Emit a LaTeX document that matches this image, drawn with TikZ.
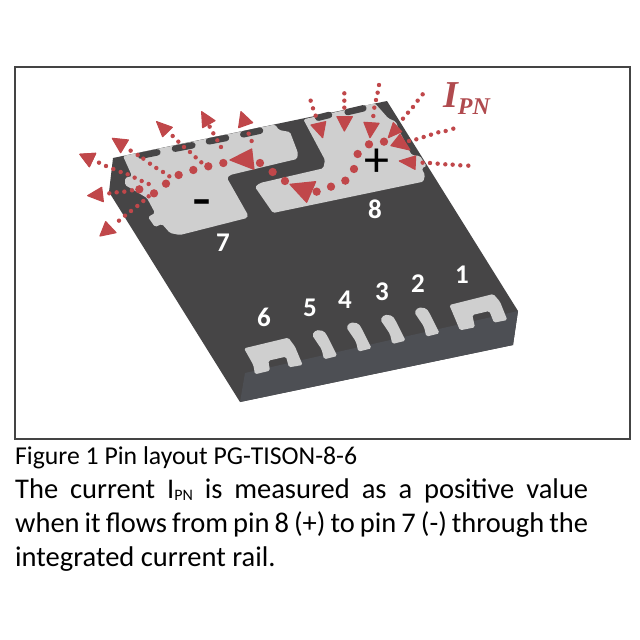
\documentclass[tikz,border=0pt]{standalone}
\usepackage{fontspec}
\setmainfont{Carlito}
\newfontfamily\serifbi[BoldItalicFont={Liberation Serif Bold Italic}]{Liberation Serif}
\definecolor{bodytop}{HTML}{464546}
\definecolor{bodyside}{HTML}{4D4F54}
\definecolor{padgray}{HTML}{CFCFCF}
\definecolor{cred}{HTML}{C0474A}
\definecolor{txtred}{HTML}{B04A4E}
\definecolor{framec}{HTML}{444444}
\tikzset{
  pad/.style={fill=padgray,rounded corners=1.6pt},
  pill/.style={draw=bodytop,line width=6.5pt,line cap=round},
  pinlabel/.style={text=white,font=\fontsize{27}{27}\selectfont\bfseries,inner sep=0pt},
  zone/.style={shift={(#1)},x=0.3333pt,y=-0.3333pt},
  tri/.style={fill=cred,draw=cred,line width=1.2pt,line join=round},
}
% small dots: list of coordinates in the current zoomed scope
\newcommand{\smalldots}[1]{\foreach \p in {#1}{\fill[cred] \p circle[radius=6.6];}}
\newcommand{\bigdots}[1]{\foreach \p in {#1}{\fill[cred] \p circle[radius=12.5];}}
\begin{document}
\begin{tikzpicture}[x=1pt,y=-1pt]
\useasboundingbox (0,0) rectangle (640,640);
\fill[white] (0,0) rectangle (640,640);
\draw[framec,line width=1.5pt] (15,67) rectangle (630,439);
% package
\fill[bodytop] (113,158) -- (387,101) -- (518,311) -- (513,345) -- (240,402) -- (220,370) -- (109,192) -- cycle;
\fill[bodyside] (245,373) -- (518,311) -- (513,345) -- (240,402) -- cycle;
% pad 7
\fill[pad] (123,156) -- (275,124.5) -- (279,130) -- (290,132) -- (298,153) -- (297,159) -- (280,163)
  -- (230,175) -- (227,178) -- (248,215) -- (247,218) -- (180,235) -- (170,233) -- (162,224)
  -- (155,227) -- (148,217) -- (155,213) -- (147,198) -- (137,192) -- (125,185) -- (125,178) -- (132,176) -- cycle;
% pad 8
\begin{scope}[zone={280,70}]
\fill[pad] (70,148) -- (285,100) -- (325,145) -- (348,155) -- (358,183) -- (395,255) -- (420,258)
  -- (440,288) -- (425,295) -- (435,315) -- (430,335) -- (-21,429) -- (-75,351) -- (-60,339)
  -- (130,295) -- (135,270) -- cycle;
\draw[pill] (115,143) -- (147,135);
\draw[pill] (203,126) -- (250,115);
\end{scope}
\begin{scope}[zone={60,70}]
\draw[pill] (243,257) -- (292,247);
\draw[pill] (345,236) -- (397,226);
\draw[pill] (447,214) -- (498,204);
\draw[pill] (550,193) -- (600,182);
\end{scope}
% pins
\begin{scope}[zone={220,250}]
\fill[pad] (72,295) -- (205,263) -- (225,290) -- (248,345) -- (207,352) -- (198,320) -- (145,332) -- (150,362) -- (105,373) -- (100,345) -- cycle;
\fill[pad] (688,165) -- (820,132) -- (840,155) -- (862,210) -- (822,218) -- (808,183) -- (757,195) -- (765,232) -- (720,241) -- (705,205) -- cycle;
\foreach \dx/\dy in {0/0,103/-23,205/-46,307/-68}{
  \fill[padgray,rounded corners=1.8pt,shift={(\dx,\dy)}] (276,255) -- (288,240) -- (312,243) -- (322,258) -- (352,318) -- (312,328) -- (305,298) -- cycle;
}
\end{scope}
% labels
\node[pinlabel] (l7) at (223,243) {7};
\node[pinlabel] (l8) at (375,209) {8};
\node[pinlabel] (l1) at (462,275) {1};
\node[pinlabel] (l2) at (418,284) {2};
\node[pinlabel] (l3) at (382,292) {3};
\node[pinlabel] (l4) at (345,300) {4};
\node[pinlabel] (l5) at (310,308) {5};
\node[pinlabel] (l6) at (264,317) {6};
\node[anchor=base,inner sep=0pt,font=\fontsize{62}{62}\selectfont] (minus) at (201.5,219) {-};
\node[inner sep=0pt,font=\fontsize{50}{50}\selectfont] (plus) at (376.5,163) {+};
% current arrows, left part
\begin{scope}[zone={60,70}]
\fill[tri] (60,253) -- (107,250) -- (88,290) -- cycle;
\draw[tri] (60,253) -- (107,250) -- (88,290) -- cycle;
\smalldots{(117,278),(138,288),(160,297),(182,306),(203,313),(224,323),(245,333),(266,342)}
\draw[tri] (157,205) -- (205,210) -- (182,248) -- cycle;
\smalldots{(212,242),(233,255),(250,266),(270,281),(289,294),(309,306),(328,319)}
\draw[tri] (290,155) -- (337,172) -- (308,200) -- cycle;
\smalldots{(338,198),(355,215),(372,231),(390,246),(407,262),(424,277)}
\draw[tri] (425,125) -- (465,152) -- (428,173) -- cycle;
\smalldots{(449,170),(460,190),(472,211),(483,231)}
\draw[tri] (543,125) -- (578,158) -- (536,173) -- cycle;
\smalldots{(566,191),(575,213)}
\draw[tri] (83,377) -- (125,352) -- (130,395) -- cycle;
\smalldots{(148,370),(170,367),(193,365),(216,361)}
\draw[tri] (120,498) -- (137,455) -- (168,488) -- cycle;
\smalldots{(177,452),(195,437),(213,423),(232,408),(250,393),(266,379)}
\bigdots{(238,358),(282,370),(318,341),(356,315),(400,300),(445,289),(490,279),(600,279),(638,306),(675,333)}
\draw[tri] (510,270) -- (575,237) -- (582,298) -- cycle;
\end{scope}
% current arrows, right part
\begin{scope}[zone={280,70}]
\smalldots{(92,92),(99,115),(107,137)}
\draw[tri] (93,165) -- (137,155) -- (128,203) -- cycle;
\smalldots{(193,70),(193,92),(193,113)}
\draw[tri] (171,140) -- (217,140) -- (193,183) -- cycle;
\smalldots{(297,45),(293,68),(288,90),(283,113),(280,138)}
\draw[tri] (252,157) -- (297,160) -- (270,203) -- cycle;
\smalldots{(428,73),(413,92),(399,111),(384,128),(369,146)}
\draw[tri] (340,158) -- (365,185) -- (325,203) -- cycle;
\smalldots{(520,176),(497,183),(475,187),(453,194),(431,201),(409,208),(387,213)}
\draw[tri] (360,193) -- (390,240) -- (333,227) -- cycle;
\smalldots{(565,287),(541,286),(518,284),(496,283),(473,281),(450,279),(428,278)}
\draw[tri] (358,273) -- (407,258) -- (405,298) -- cycle;
\bigdots{(110,365),(153,350),(196,332),(222,297),(233,252),(267,223),(312,215)}
\draw[tri] (30,343) -- (107,335) -- (80,397) -- cycle;
\end{scope}
\node[anchor=base west,inner sep=0pt,text=txtred] (ipn) at (443,107)
  {\serifbi\bfseries\itshape\fontsize{38}{38}\selectfont I\raisebox{-7pt}{\fontsize{24}{24}\selectfont PN}};
% text
\node[anchor=base west,inner sep=0pt,font=\fontsize{25.7}{26}\selectfont] (cap) at (15,464) {Figure 1 Pin layout PG-TISON-8-6};
\node[anchor=base west,inner sep=0pt,font=\fontsize{28.5}{29}\selectfont] (t1) at (15,498)
  {\hbox to 573pt{The current I\raisebox{-2pt}{\fontsize{16}{16}\selectfont PN} is measured as a positive value}};
\node[anchor=base west,inner sep=0pt,font=\fontsize{28.5}{29}\selectfont] (t2) at (15,532)
  {\hbox to 573pt{when it flows from pin 8 (+) to pin 7 (-) through the}};
\node[anchor=base west,inner sep=0pt,font=\fontsize{28.5}{29}\selectfont] (t3) at (15,566)
  {integrated current rail.};
\end{tikzpicture}
\end{document}
